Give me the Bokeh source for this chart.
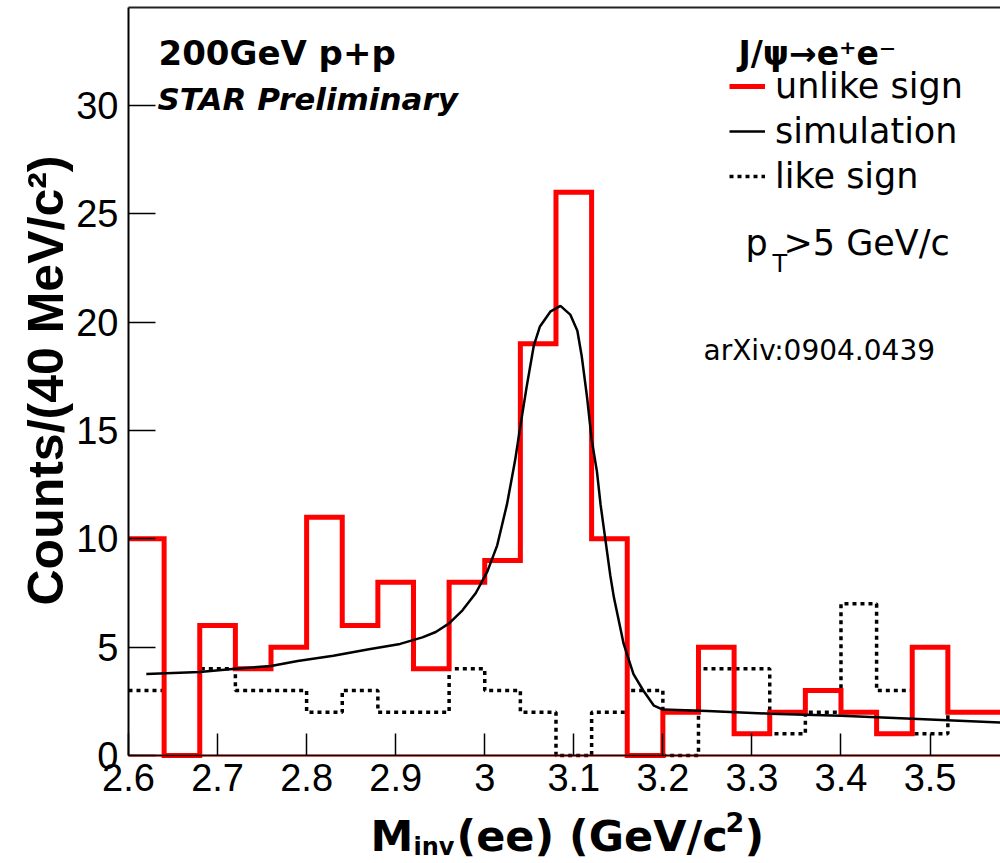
import math
from bokeh.plotting import figure
from bokeh.models import Range1d, Label, FixedTicker, Legend, LegendItem, LinearAxis
from bokeh.embed import file_html
from bokeh.resources import INLINE

# ---------------- data ----------------
bin_edges = [2.60, 2.64, 2.68, 2.72, 2.76, 2.80, 2.84, 2.88, 2.92, 2.96, 3.00,
             3.04, 3.08, 3.12, 3.16, 3.20, 3.24, 3.28, 3.32, 3.36, 3.40, 3.44,
             3.48, 3.52, 3.56, 3.60]
unlike_counts = [10, 0, 6, 4, 5, 11, 6, 8, 4, 8, 9, 19, 26, 10, 0, 2, 5, 1, 2,
                 3, 2, 1, 5, 2, 2]
like_counts = [3, 0, 4, 3, 3, 2, 3, 2, 2, 4, 3, 2, 0, 2, 3, 0, 4, 4, 1, 2, 7,
               3, 1, 2, 2]
sim_mass = [2.62, 2.68, 2.72, 2.76, 2.79, 2.83, 2.87, 2.905, 2.93, 2.945, 2.96,
            2.975, 2.99, 3.003, 3.014, 3.025, 3.034, 3.04, 3.047, 3.055, 3.062,
            3.074, 3.085, 3.096, 3.104, 3.109, 3.115, 3.12, 3.126, 3.13, 3.135,
            3.141, 3.145, 3.156, 3.167, 3.178, 3.19, 3.20, 3.25, 3.32, 3.40,
            3.48, 3.58, 3.60]
sim_counts = [3.76, 3.85, 4.0, 4.13, 4.36, 4.6, 4.9, 5.15, 5.45, 5.7, 6.1,
              6.7, 7.5, 8.5, 9.7, 11.6, 13.6, 15.2, 17.0, 18.9, 19.8,
              20.5, 20.75, 20.35, 19.6, 18.4, 16.5, 14.6, 13.1, 11.6, 10.1,
              8.3, 7.3, 5.15, 3.76, 3.0, 2.3, 2.12, 2.05, 1.93, 1.84,
              1.7, 1.52, 1.5]
x_ticks = [2.6, 2.7, 2.8, 2.9, 3.0, 3.1, 3.2, 3.3, 3.4, 3.5]
x_tick_labels = ["2.6", "2.7", "2.8", "2.9", "3", "3.1", "3.2", "3.3", "3.4", "3.5"]
y_ticks = [0, 5, 10, 15, 20, 25, 30]
y_tick_labels = ["0", "5", "10", "15", "20", "25", "30"]
x_axis_start, y_axis_top = 2.6, 34.52

# ---------------- layout ----------------
W, H = 1000, 863
PX_X, PX_Y = 890.6, 21.667          # pixels per data unit
AX_L, AX_B = 128, 755               # pixel position of x=2.6 and y=0
XS = x_axis_start - AX_L / PX_X
XE = XS + W / PX_X
YE = AX_B / PX_Y
YS = YE - H / PX_Y


def dx(px):
    return XS + px / PX_X


def dy(py):
    return YE - py / PX_Y


p = figure(width=W, height=H, x_range=Range1d(XS, XE), y_range=Range1d(YS, YE),
           output_backend="svg", toolbar_location=None,
           min_border_left=0, min_border_right=0,
           min_border_top=0, min_border_bottom=0)
p.outline_line_color = None
p.xgrid.visible = False
p.ygrid.visible = False
p.background_fill_color = "white"
p.border_fill_color = "white"

TICK_FONT = "Liberation Sans"
for ax, ticks, labels, tick_len in ((p.xaxis[0], x_ticks, x_tick_labels, 22),
                                    (p.yaxis[0], y_ticks, y_tick_labels, 27)):
    ax.ticker = FixedTicker(ticks=ticks)
    ax.major_label_overrides = {t: l for t, l in zip(ticks, labels)}
    ax.major_tick_in = tick_len
    ax.major_tick_out = 0
    ax.minor_tick_in = 0
    ax.minor_tick_out = 0
    ax.major_tick_line_color = "black"
    ax.major_tick_line_width = 1.5
    ax.axis_line_color = "black"
    ax.major_label_text_font = TICK_FONT
    ax.major_label_text_font_size = "38px"
    ax.major_label_text_color = "black"
p.xaxis.fixed_location = 0
p.xaxis.bounds = (x_axis_start, XE + 1)
p.xaxis.axis_line_width = 1.5
p.xaxis.major_label_standoff = 8
p.yaxis.fixed_location = x_axis_start
p.yaxis.bounds = (0, y_axis_top)
p.yaxis.axis_line_width = 2
p.yaxis.major_label_standoff = 10

# top frame line
top_axis = LinearAxis(fixed_location=y_axis_top, bounds=(x_axis_start, XE + 1),
                      ticker=FixedTicker(ticks=[]), axis_line_color="#222222",
                      axis_line_width=2, major_tick_in=0, major_tick_out=0,
                      minor_tick_in=0, minor_tick_out=0,
                      major_label_text_font_size="0px")
p.add_layout(top_axis, "above")

# ---------------- data marks ----------------
r_like = p.step(bin_edges, like_counts + like_counts[-1:], mode="after",
                line_color="black", line_width=3.5, line_dash="4 4")
r_unlike = p.step(bin_edges, unlike_counts + unlike_counts[-1:], mode="after",
                  line_color="#ff0000", line_width=5, line_join="miter")
p.line([bin_edges[0], bin_edges[-1]], [0, 0], line_color="#ff0000", line_width=2)
r_sim = p.line(sim_mass, sim_counts, line_color="black", line_width=2.5)

# ---------------- legend ----------------
legend = Legend(items=[LegendItem(label="unlike sign", renderers=[r_unlike]),
                       LegendItem(label="simulation", renderers=[r_sim]),
                       LegendItem(label="like sign", renderers=[r_like])],
                location=(729, H - 195.5), orientation="vertical",
                padding=0, margin=0, spacing=5, label_standoff=10,
                glyph_width=36, glyph_height=40, label_height=40,
                label_text_font="DejaVu Sans", label_text_font_size="35px",
                label_text_color="black",
                border_line_color=None, background_fill_alpha=0)
p.add_layout(legend)


def lab(px, py, text, font="DejaVu Sans", size=35, style="normal", angle=0,
        align="left", baseline="alphabetic"):
    p.add_layout(Label(x=dx(px), y=dy(py), text=text, text_font=font,
                       text_font_size=f"{size}px", text_font_style=style,
                       text_color="black", angle=angle, text_align=align,
                       text_baseline=baseline))


lab(738, 53, "J/ψ→e⁺e⁻", size=33, style="bold")
lab(745, 242, "p", size=35)
lab(772, 263, "T", size=24)
lab(783, 242, ">5 GeV/c", size=35)

lab(158, 52, "200GeV p+p", size=34, style="bold")
lab(157, 98, "STAR Preliminary", size=31, style="bold italic")
lab(703, 350, "arXiv:0904.0439", size=28)

# axis titles
lab(45, 380, "Counts/(40 MeV/c²)", font="Liberation Sans", size=50,
    style="bold", angle=math.pi / 2, align="center", baseline="middle")
lab(370, 835, "M", size=43, style="bold")
lab(413, 846, "inv", size=24, style="bold")
lab(456, 835, "(ee) (GeV/c", size=43, style="bold")
lab(725, 821, "2", size=27, style="bold")
lab(744, 835, ")", size=43, style="bold")

open("out.html", "w").write(file_html(p, INLINE))
